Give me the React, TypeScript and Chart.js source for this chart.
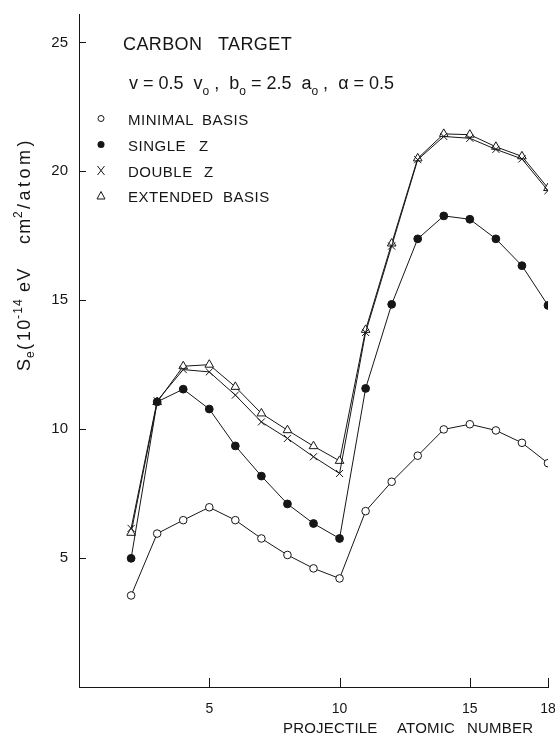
import React, { useEffect, useRef } from 'react';
import { Chart, registerables } from 'chart.js';

Chart.register(...registerables);

// ---- data ----
const atomicNumbers = [2, 3, 4, 5, 6, 7, 8, 9, 10, 11, 12, 13, 14, 15, 16, 17, 18];
const minimalBasis = [3.55, 5.95, 6.47, 6.97, 6.47, 5.76, 5.12, 4.6, 4.21, 6.82, 7.96, 8.97, 9.99, 10.19, 9.95, 9.47, 8.68];
const singleZeta = [4.99, 11.06, 11.55, 10.78, 9.35, 8.18, 7.1, 6.34, 5.76, 11.58, 14.84, 17.38, 18.27, 18.14, 17.38, 16.34, 14.8];
const doubleZeta = [6.15, 11.1, 12.31, 12.22, 11.32, 10.28, 9.64, 8.93, 8.28, 13.75, 17.1, 20.45, 21.35, 21.28, 20.85, 20.48, 19.25];
const extendedBasis = [5.98, 11.05, 12.44, 12.5, 11.64, 10.61, 9.96, 9.34, 8.77, 13.85, 17.2, 20.5, 21.45, 21.42, 20.95, 20.58, 19.35];

const xTickValues = [5, 10, 15, 18];
const yTickValues = [5, 10, 15, 20, 25];
const legendLabels = [['MINIMAL', 'BASIS'], ['SINGLE', 'Z'], ['DOUBLE', 'Z'], ['EXTENDED', 'BASIS']];
const titleWords = ['CARBON', 'TARGET'];
const xTitleWords = ['PROJECTILE', 'ATOMIC', 'NUMBER'];

const FONT = '"Liberation Sans", Arial, Helvetica, sans-serif';
const INK = '#161616';

type Run = { t: string; size: number; dy?: number; gap?: number; x?: number; ls?: number };

function drawRuns(ctx: CanvasRenderingContext2D, runs: Run[], x0: number, y0: number, spacing: number) {
  let x = x0;
  for (const r of runs) {
    if (r.x !== undefined) x = x0 + r.x;
    ctx.font = `${r.size}px ${FONT}`;
    (ctx as any).letterSpacing = `${r.ls !== undefined ? r.ls : spacing}px`;
    ctx.fillText(r.t, x, y0 + (r.dy || 0));
    x += ctx.measureText(r.t).width + (r.gap || 0);
  }
  (ctx as any).letterSpacing = '0px';
}

const decorPlugin = {
  id: 'decor',
  afterDraw(chart: any) {
    const ctx: CanvasRenderingContext2D = chart.ctx;
    const xs = chart.scales.x;
    const ys = chart.scales.y;
    const area = chart.chartArea;
    ctx.save();
    ctx.strokeStyle = INK;
    ctx.fillStyle = INK;
    ctx.lineWidth = 1;
    // inward tick marks
    ctx.beginPath();
    for (const v of yTickValues) {
      const py = Math.round(ys.getPixelForValue(v)) + 0.5;
      ctx.moveTo(area.left, py);
      ctx.lineTo(area.left + 7, py);
    }
    for (const v of xTickValues) {
      const px = Math.round(xs.getPixelForValue(v)) + 0.5;
      ctx.moveTo(px, area.bottom);
      ctx.lineTo(px, area.bottom - 9);
    }
    ctx.stroke();

    ctx.textBaseline = 'alphabetic';
    ctx.textAlign = 'left';

    // title
    ctx.font = `18px ${FONT}`;
    (ctx as any).letterSpacing = '0.4px';
    ctx.fillText(titleWords[0], 123, 50);
    ctx.fillText(titleWords[1], 218, 50);
    (ctx as any).letterSpacing = '0px';

    // parameter line
    drawRuns(ctx, [
      { t: 'v = 0.5  v', size: 18 },
      { t: 'o', size: 12, dy: 6 },
      { t: ' ,  b', size: 18 },
      { t: 'o', size: 12, dy: 6 },
      { t: ' = 2.5  a', size: 18 },
      { t: 'o', size: 12, dy: 6 },
      { t: ' ,  α = 0.5', size: 18 },
    ], 129, 89, 0);

    // legend
    const rows = [118.5, 144.5, 170.5, 196];
    const mx = 101;
    ctx.beginPath();
    ctx.arc(mx, rows[0], 3, 0, Math.PI * 2);
    ctx.fillStyle = '#fff';
    ctx.fill();
    ctx.stroke();
    ctx.fillStyle = INK;
    ctx.beginPath();
    ctx.arc(mx, rows[1], 3.5, 0, Math.PI * 2);
    ctx.fill();
    ctx.beginPath();
    ctx.moveTo(mx - 3.5, rows[2] - 4.5);
    ctx.lineTo(mx + 3.5, rows[2] + 4.5);
    ctx.moveTo(mx + 3.5, rows[2] - 4.5);
    ctx.lineTo(mx - 3.5, rows[2] + 4.5);
    ctx.stroke();
    ctx.beginPath();
    ctx.moveTo(mx, rows[3] - 4.5);
    ctx.lineTo(mx + 4, rows[3] + 3);
    ctx.lineTo(mx - 4, rows[3] + 3);
    ctx.closePath();
    ctx.stroke();

    ctx.font = `15px ${FONT}`;
    (ctx as any).letterSpacing = '0.5px';
    const secondX = [202, 199, 204, 223];
    legendLabels.forEach((words, i) => {
      const base = rows[i] + 6;
      ctx.fillText(words[0], 128, base);
      ctx.fillText(words[1], secondX[i], base);
    });
    (ctx as any).letterSpacing = '0px';

    // x-axis title
    ctx.font = `15px ${FONT}`;
    (ctx as any).letterSpacing = '0.2px';
    const xtx = [283, 397, 467];
    xTitleWords.forEach((w, i) => ctx.fillText(w, xtx[i], 733));
    (ctx as any).letterSpacing = '0px';

    // y-axis title (rotated)
    ctx.save();
    ctx.translate(30, 371);
    ctx.rotate(-Math.PI / 2);
    drawRuns(ctx, [
      { t: 'S', size: 18, x: 0 },
      { t: 'e', size: 12, dy: 4, x: 13 },
      { t: '(', size: 18, x: 21 },
      { t: '10', size: 18, x: 30 },
      { t: '-14', size: 12, dy: -8, x: 52 },
      { t: 'eV', size: 18, x: 79 },
      { t: 'cm', size: 18, x: 127 },
      { t: '2', size: 12, dy: -8, x: 153 },
      { t: '/atom)', size: 18, x: 162, ls: 3.5 },
    ], 0, 0, 1.2);
    ctx.restore();

    ctx.restore();
  },
};

export default function App() {
  const ref = useRef<HTMLCanvasElement | null>(null);
  useEffect(() => {
    if (!ref.current) return;
    const line = { borderColor: INK, borderWidth: 1, tension: 0, pointBorderWidth: 1, pointBorderColor: INK };
    const toPts = (arr: number[]) => atomicNumbers.map((x, i) => ({ x, y: arr[i] }));
    const noPad = (s: any) => { s.paddingLeft = 0; s.paddingRight = 0; s.paddingTop = 0; s.paddingBottom = 0; };
    const chart = new Chart(ref.current, {
      type: 'line',
      data: {
        datasets: [
          { ...line, label: 'MINIMAL BASIS', data: toPts(minimalBasis), pointStyle: 'circle', pointRadius: 3.8, pointBackgroundColor: '#fff' },
          { ...line, label: 'SINGLE Z', data: toPts(singleZeta), pointStyle: 'circle', pointRadius: 3.9, pointBackgroundColor: INK },
          { ...line, label: 'DOUBLE Z', data: toPts(doubleZeta), pointStyle: 'crossRot', pointRadius: 5, pointBackgroundColor: INK },
          { ...line, label: 'EXTENDED BASIS', data: toPts(extendedBasis), pointStyle: 'triangle', pointRadius: 5, pointBackgroundColor: '#fff' },
        ],
      },
      options: {
        responsive: false,
        animation: false,
        devicePixelRatio: 1,
        layout: { padding: { top: 14, right: 7, left: 0, bottom: 0 } },
        plugins: { legend: { display: false }, tooltip: { enabled: false }, title: { display: false } },
        scales: {
          x: {
            type: 'linear',
            min: 0,
            max: 18,
            grid: { display: false, drawTicks: false },
            border: { display: true, color: INK, width: 1 },
            ticks: { color: INK, font: { family: FONT, size: 14 }, padding: 14, maxRotation: 0 },
            afterBuildTicks: (s: any) => { s.ticks = xTickValues.map((v) => ({ value: v })); },
            afterFit: (s: any) => { s.height = 49; noPad(s); },
          },
          y: {
            type: 'linear',
            min: 0,
            max: 26.1,
            grid: { display: false, drawTicks: false },
            border: { display: true, color: INK, width: 1 },
            ticks: { color: INK, font: { family: FONT, size: 15 }, padding: 11 },
            afterBuildTicks: (s: any) => { s.ticks = yTickValues.map((v) => ({ value: v })); },
            afterFit: (s: any) => { s.width = 79; noPad(s); },
          },
        },
      },
      plugins: [decorPlugin],
    } as any);
    return () => chart.destroy();
  }, []);
  return (
    <div style={{ position: 'absolute', left: 0, top: 0, width: 555, height: 736, background: '#fff' }}>
      <canvas ref={ref} width={555} height={736} style={{ width: 555, height: 736, display: 'block' }} />
    </div>
  );
}
